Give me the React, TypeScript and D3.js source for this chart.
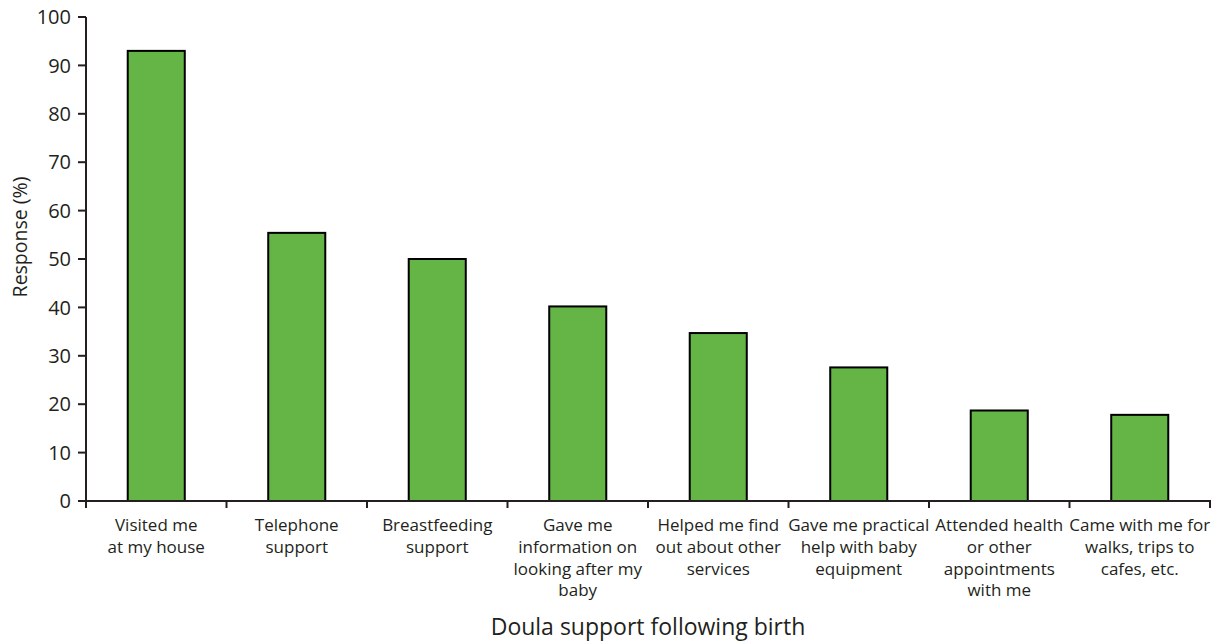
import React from "react";
import * as d3 from "d3";

const categories: string[][] = [
  ["Visited me", "at my house"],
  ["Telephone", "support"],
  ["Breastfeeding", "support"],
  ["Gave me", "information on", "looking after my", "baby"],
  ["Helped me find", "out about other", "services"],
  ["Gave me practical", "help with baby", "equipment"],
  ["Attended health", "or other", "appointments", "with me"],
  ["Came with me for", "walks, trips to", "cafes, etc."],
];
const values: number[] = [93.0, 55.4, 50.0, 40.2, 34.7, 27.6, 18.7, 17.8];
const yTicks: number[] = [0, 10, 20, 30, 40, 50, 60, 70, 80, 90, 100];
const yTitle = "Response (%)";
const xTitle = "Doula support following birth";

const W = 1231;
const H = 644;
const left = 86;
const right = 1210;
const top = 17;
const bottom = 501;
const font = "'Open Sans', 'Noto Sans', sans-serif";
const textColor = "#231f20";

export default function App() {
  const keys = categories.map((_, i) => String(i));
  const x = d3.scaleBand<string>().domain(keys).range([left, right]).paddingInner(0.594).paddingOuter(0.297);
  const band = d3.scaleBand<string>().domain(keys).range([left, right]).padding(0);
  const y = d3.scaleLinear().domain([0, 100]).range([bottom, top]);
  const boundaries = keys.map((k) => band(k)!).concat([right]);

  return (
    <svg width={W} height={H} style={{ position: "absolute", left: 0, top: 0, background: "#fff" }}>
      {values.map((v, i) => (
        <rect
          key={i}
          x={x(keys[i])!}
          y={y(v)}
          width={x.bandwidth()}
          height={y(0) - y(v)}
          fill="#64b446"
          stroke="#000"
          strokeWidth={2}
        />
      ))}
      <line x1={left} x2={left} y1={top} y2={bottom} stroke={textColor} strokeWidth={2} />
      {yTicks.map((t) => (
        <g key={t}>
          <line x1={left - 8} x2={left} y1={y(t)} y2={y(t)} stroke={textColor} strokeWidth={2} />
          <text
            x={71}
            y={y(t)}
            dy="0.36em"
            textAnchor="end"
            fontFamily={font}
            fontSize={20}
            fill={textColor}
          >
            {t}
          </text>
        </g>
      ))}
      <line x1={left - 8} x2={right + 1} y1={bottom} y2={bottom} stroke={textColor} strokeWidth={2} />
      {boundaries.map((b, i) => (
        <line key={i} x1={b} x2={b} y1={bottom} y2={bottom + 7} stroke={textColor} strokeWidth={2} />
      ))}
      {categories.map((lines, i) => (
        <text
          key={i}
          x={band(keys[i])! + band.bandwidth() / 2}
          y={531}
          textAnchor="middle"
          fontFamily={font}
          fontSize={17}
          fill={textColor}
        >
          {lines.map((l, j) => (
            <tspan key={j} x={band(keys[i])! + band.bandwidth() / 2} dy={j === 0 ? 0 : 21.8}>
              {l}
            </tspan>
          ))}
        </text>
      ))}
      <text
        x={(left + right) / 2}
        y={635}
        textAnchor="middle"
        fontFamily={font}
        fontSize={23}
        fill={textColor}
      >
        {xTitle}
      </text>
      <text
        transform={`translate(27, 237) rotate(-90)`}
        textAnchor="middle"
        fontFamily={font}
        fontSize={19.5}
        fill={textColor}
      >
        {yTitle}
      </text>
    </svg>
  );
}
